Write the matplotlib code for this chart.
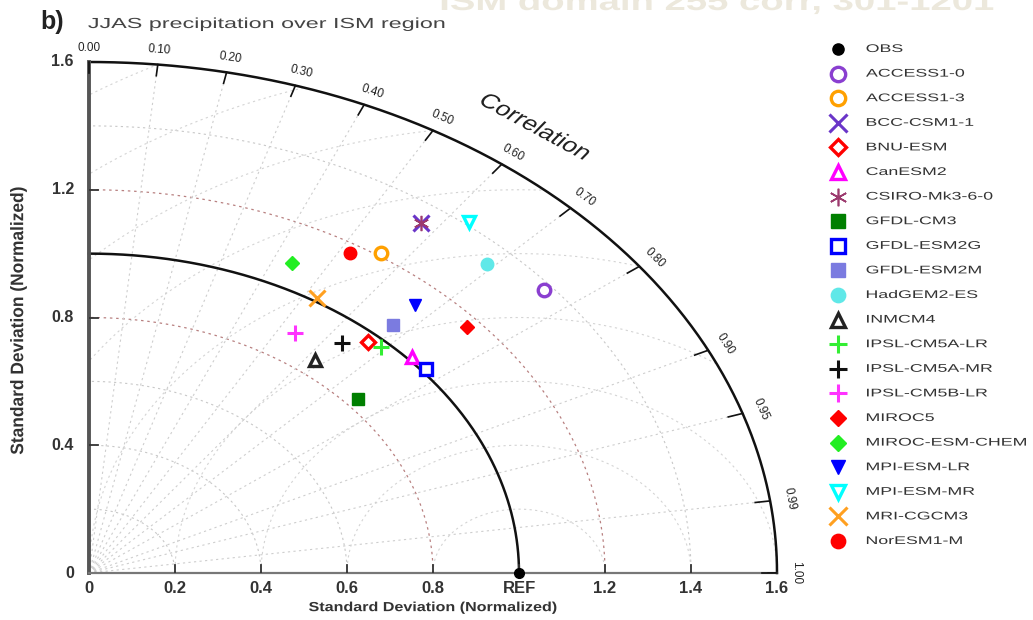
import numpy as np
import matplotlib.pyplot as plt
from matplotlib.patheffects import AbstractPathEffect
from matplotlib.transforms import Affine2D

plt.rcParams['font.family'] = ['Liberation Sans', 'DejaVu Sans']

# model statistics: normalized standard deviation and pattern correlation
modelle = ['OBS', 'ACCESS1-0', 'ACCESS1-3', 'BCC-CSM1-1', 'BNU-ESM', 'CanESM2',
           'CSIRO-Mk3-6-0', 'GFDL-CM3', 'GFDL-ESM2G', 'GFDL-ESM2M', 'HadGEM2-ES',
           'INMCM4', 'IPSL-CM5A-LR', 'IPSL-CM5A-MR', 'IPSL-CM5B-LR', 'MIROC5',
           'MIROC-ESM-CHEM', 'MPI-ESM-LR', 'MPI-ESM-MR', 'MRI-CGCM3', 'NorESM1-M']
std = [1.00, 1.38, 1.21, 1.34, 0.97, 1.01,
       1.34, 0.83, 1.01, 1.05, 1.34,
       0.85, 0.98, 0.93, 0.89, 1.17,
       1.08, 1.13, 1.41, 1.01, 1.17]
corr = [1.00, 0.767, 0.562, 0.576, 0.668, 0.744,
        0.576, 0.753, 0.775, 0.673, 0.691,
        0.619, 0.692, 0.633, 0.538, 0.752,
        0.437, 0.671, 0.627, 0.525, 0.518]

# marker, colour, filled
stijl = [('o', 'black', True), ('o', '#8a3fd0', False), ('o', '#ffa000', False),
         ('x', '#6a35c8', True), ('D', '#ff0000', False), ('^', '#ff00ff', False),
         ((6, 2, 0), '#9c3a6e', True), ('s', '#007f00', True), ('s', '#0000ff', False),
         ('s', '#7b7be0', True), ('o', '#60e8e8', True), ('^', '#222222', False),
         ('+', '#33ee33', True), ('+', '#111111', True), ('+', '#ff33ff', True),
         ('D', '#ff0000', True), ('D', '#22ee22', True), ('v', '#0000ff', True),
         ('v', '#00ffff', False), ('x', '#ffa020', True), ('o', '#ff0000', True)]

corr_ticks = [0.0, 0.1, 0.2, 0.3, 0.4, 0.5, 0.6, 0.7, 0.8, 0.9, 0.95, 0.99, 1.0]
x_ticks = [0, 0.2, 0.4, 0.6, 0.8, 1.0, 1.2, 1.4, 1.6]
x_labels = ['0', '0.2', '0.4', '0.6', '0.8', 'REF', '1.2', '1.4', '1.6']
y_ticks = [0, 0.4, 0.8, 1.2, 1.6]
y_labels = ['0', '0.4', '0.8', '1.2', '1.6']


class Rek(AbstractPathEffect):
    # rekt de tekst uit in x (en/of y) rond een ankerpunt
    def __init__(self, kx=1.0, ky=1.0, anker='left'):
        super().__init__()
        self.kx, self.ky, self.anker = kx, ky, anker

    def draw_path(self, renderer, gc, tpath, affine, rgbFace=None):
        ext = tpath.get_extents(affine)
        if self.anker == 'left':
            x0 = ext.x0
        elif self.anker == 'right':
            x0 = ext.x1
        else:
            x0 = (ext.x0 + ext.x1) / 2
        y0 = (ext.y0 + ext.y1) / 2
        t = affine + Affine2D().translate(-x0, -y0).scale(self.kx, self.ky).translate(x0, y0)
        renderer.draw_path(gc, tpath, t, rgbFace)


R = 1.6
W, H = 1033, 620
fig = plt.figure(figsize=(W / 100, H / 100), dpi=100)
ax = fig.add_axes([89 / W, 47 / H, 688 / W, 511 / H])
ax.set_xlim(0, R)
ax.set_ylim(0, R)
ax.axis('off')

# schaal in pixels per eenheid (niet gelijk in x en y)
sx, sy = 688 / R, 511 / R

th = np.linspace(0, np.pi / 2, 300)
stip = (0, (2, 3))

# std-bogen rond de oorsprong
for r in [0.2, 0.4, 0.6, 1.4]:
    ax.plot(r * np.cos(th), r * np.sin(th), ls=stip, color='#c8c8c8', lw=0.8)
for r in [0.8, 1.2]:
    ax.plot(r * np.cos(th), r * np.sin(th), ls=stip, color='#b88080', lw=0.9)

# centered RMS cirkels rond REF
phi = np.linspace(0, np.pi, 400)
for r in np.arange(0.2, 1.81, 0.2):
    xx = 1 + r * np.cos(phi)
    yy = r * np.sin(phi)
    m = (xx ** 2 + yy ** 2 <= R ** 2) & (xx >= 0)
    xx = np.where(m, xx, np.nan)
    ax.plot(xx, yy, ls=stip, color='#d4d4d4', lw=0.8)

# radiale correlatielijnen
for c in corr_ticks[1:-1]:
    t = np.arccos(c)
    ax.plot([0, R * np.cos(t)], [0, R * np.sin(t)], ls=stip, color='#cecece', lw=0.8)

# REF boog en buitenrand
ax.plot(np.cos(th), np.sin(th), color='#111111', lw=1.8, clip_on=False)
ax.plot(R * np.cos(th), R * np.sin(th), color='#111111', lw=1.8, clip_on=False)

# assen
ax.plot([0, 0], [0, R], color='#555555', lw=2.8, clip_on=False)
ax.plot([0, R], [0, 0], color='#777777', lw=1.6, clip_on=False)

# ticks op de x-as
for xt, lab in zip(x_ticks, x_labels):
    if 0 < xt < R:
        ax.plot([xt, xt], [0, 0.025], color='#333333', lw=1.3)
    ax.text(xt, -0.025, lab, ha='center', va='top', fontsize=12, fontweight='bold',
            color='#333333')
ax.plot([R - 0.02, R], [0, 0], color='#222222', lw=1.8)

# ticks op de y-as
for yt, lab in zip(y_ticks, y_labels):
    if 0 < yt < R:
        ax.plot([0, 0.02], [yt, yt], color='#333333', lw=1.3)
    ax.text(-0.035, yt, lab, ha='right', va='center', fontsize=11.5, fontweight='bold',
            color='#333333')

# correlatie ticks en labels op de buitenrand
for c in corr_ticks:
    t = np.arccos(c)
    ax.plot([(R - 0.035) * np.cos(t), R * np.cos(t)],
            [(R - 0.035) * np.sin(t), R * np.sin(t)], color='#111111', lw=1.2,
            clip_on=False)
    rot = np.degrees(np.arctan2(-sy * np.cos(t), sx * np.sin(t)))
    ax.text((R + 0.045) * np.cos(t), (R + 0.045) * np.sin(t), '%.2f' % c,
            rotation=rot, rotation_mode='anchor', ha='center', va='center',
            fontsize=8.5, color='#222222')

ax.text(1.037, 1.396, 'Correlation', rotation=-36, ha='center', va='center',
        fontsize=14.5, color='#222222', path_effects=[Rek(1.34, 1.0, 'center')])

# modellen
kws = []
for naam, s, c, (mk, kl, vol) in zip(modelle, std, corr, stijl):
    t = np.arccos(c)
    x, y = s * np.cos(t), s * np.sin(t)
    if mk in ['+', 'x'] or isinstance(mk, tuple):
        kw = dict(color=kl, mew=2.2 if mk != (6, 2, 0) else 1.2, ms=11)
    elif vol:
        kw = dict(color=kl, mfc=kl, mec=kl, ms=9 if mk != 'D' else 7.5)
    else:
        kw = dict(color=kl, mfc='white', mec=kl, mew=2.4, ms=9 if mk != 'D' else 7.5)
    if naam == 'OBS':
        kw['ms'] = 7
    ax.plot([x], [y], marker=mk, ls='none', clip_on=False, zorder=5, **kw)
    kws.append((mk, kw))

# legenda rechts, in pixelcoordinaten
lg = fig.add_axes([0, 0, 1, 1], zorder=-1)
lg.set_xlim(0, W)
lg.set_ylim(H, 0)
lg.axis('off')
for i, (naam, (mk, kw)) in enumerate(zip(modelle, kws)):
    yy = 49 + i * 24.6
    kw2 = dict(kw)
    kw2['ms'] = kw['ms'] * 1.15
    lg.plot([838], [yy], marker=mk, ls='none', **kw2)
    lg.text(866, yy, naam, ha='left', va='center', fontsize=8, color='#333333',
            path_effects=[Rek(1.6, 1.0, 'left')])

# astitels
ax.text(R / 2, -0.11, 'Standard Deviation (Normalized)', ha='center', va='center',
        fontsize=9.5, fontweight='bold', color='#333333',
        path_effects=[Rek(1.22, 1.0, 'center')])
ax.text(-0.165, 0.79, 'Standard Deviation (Normalized)', rotation=90, ha='center',
        va='center', fontsize=10, fontweight='bold', color='#333333',
        path_effects=[Rek(1.3, 1.25, 'center')])

fig.text(40 / W, 1 - 22 / H, 'b)', fontsize=18, fontweight='bold', va='center',
         color='#222222')
fig.text(88 / W, 1 - 24 / H, 'JJAS precipitation over ISM region', fontsize=10.5,
         va='center', color='#444444', path_effects=[Rek(1.6, 1.0, 'left')])
fig.text(440 / W, 1 - 3 / H, 'ISM domain 255 corr, 301-1201', fontsize=19,
         fontweight='bold', va='center', color='#ece8dc',
         path_effects=[Rek(1.45, 1.0, 'left')])

fig.savefig('out.png', dpi=100)
